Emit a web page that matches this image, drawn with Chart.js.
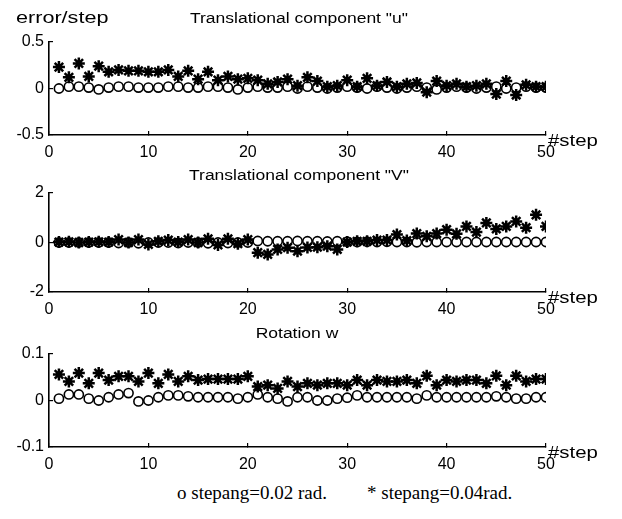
<!DOCTYPE html>
<html>
<head>
<meta charset="utf-8">
<script src="https://cdn.jsdelivr.net/npm/chart.js@4.4.1/dist/chart.umd.min.js"></script>
<style>
  html, body { margin: 0; padding: 0; background: #fff; }
  #wrap { position: relative; width: 622px; height: 519px; overflow: hidden; background: #fff; }
  canvas { position: absolute; left: 0; }
  .t { position: absolute; font-family: "Liberation Sans", Arial, sans-serif; color: #000; white-space: nowrap; line-height: 1; }
  .c { transform-origin: center center; }
  .l { transform-origin: left center; }
  .leg { position: absolute; font-family: "Liberation Serif", "Times New Roman", serif; font-size: 19px; color: #000; white-space: nowrap; line-height: 1; }
</style>
</head>
<body>
<div id="wrap">
  <canvas id="c1" width="622" height="165" style="top:0px;width:622px;height:165px"></canvas>
  <canvas id="c2" width="622" height="155" style="top:165px;width:622px;height:155px"></canvas>
  <canvas id="c3" width="622" height="160" style="top:320px;width:622px;height:160px"></canvas>

  <div class="t l" style="left:16px;top:10px;font-size:16px;transform:scaleX(1.35)">error/step</div>
  <div class="t c" style="left:199px;top:11px;width:200px;text-align:center;font-size:14px;transform:scaleX(1.25)">Translational component "u"</div>
  <div class="t c" style="left:199px;top:168px;width:200px;text-align:center;font-size:14px;transform:scaleX(1.25)">Translational component "V"</div>
  <div class="t c" style="left:247px;top:326px;width:100px;text-align:center;font-size:14px;transform:scaleX(1.25)">Rotation w</div>

  <div class="t l" style="left:548px;top:132px;font-size:17px;transform:scaleX(1.2)">#step</div>
  <div class="t l" style="left:548px;top:289px;font-size:17px;transform:scaleX(1.2)">#step</div>
  <div class="t l" style="left:548px;top:444px;font-size:17px;transform:scaleX(1.2)">#step</div>

  <div class="leg" style="left:177px;top:483px">o stepang=0.02 rad.</div>
  <div class="leg" style="left:367px;top:483px">* stepang=0.04rad.</div>
</div>
<script>
// ---- data ----
const steps = [1,2,3,4,5,6,7,8,9,10,11,12,13,14,15,16,17,18,19,20,21,22,23,24,25,26,27,28,29,30,31,32,33,34,35,36,37,38,39,40,41,42,43,44,45,46,47,48,49,50];

const uCircle = [0.00,0.02,0.02,0.01,-0.01,0.01,0.02,0.02,0.01,0.01,0.01,0.02,0.02,0.01,0.01,0.02,0.02,0.01,-0.01,0.01,
                 0.02,0.01,0.01,0.02,0.00,0.02,0.01,0.00,0.01,0.02,0.01,0.00,0.02,0.01,0.00,0.01,0.02,0.01,-0.01,0.01,
                 0.02,0.01,0.00,0.01,0.02,0.00,0.01,0.02,0.01,0.01];
const uStar   = [0.23,0.12,0.27,0.13,0.24,0.18,0.20,0.19,0.19,0.18,0.18,0.20,0.13,0.19,0.10,0.18,0.09,0.13,0.10,0.11,
                 0.09,0.05,0.07,0.10,0.03,0.12,0.08,0.02,0.03,0.09,0.02,0.11,0.03,0.07,0.02,0.05,0.06,-0.04,0.08,0.03,
                 0.05,0.02,0.03,0.05,-0.06,0.08,-0.07,0.04,0.02,0.02];

const vCircle = [0.00,0.00,0.00,0.00,0.00,0.00,-0.02,0.00,-0.03,0.00,0.00,0.00,-0.02,0.00,0.00,-0.03,0.00,-0.02,0.00,0.00,
                 0.06,0.05,0.05,0.05,0.06,0.05,0.05,0.04,0.05,0.03,0.02,0.03,0.02,0.03,0.02,0.02,0.01,0.02,0.02,0.02,
                 0.02,0.02,0.02,0.02,0.02,0.02,0.02,0.02,0.02,0.02];
const vStar   = [0.02,0.03,0.00,0.02,0.03,0.02,0.12,0.00,0.12,-0.08,0.05,0.10,0.02,0.12,0.00,0.15,-0.10,0.15,-0.05,0.12,
                 -0.41,-0.48,-0.28,-0.21,-0.35,-0.20,-0.19,-0.15,-0.28,0.02,0.05,0.05,0.10,0.10,0.32,0.08,0.36,0.25,0.36,0.52,
                 0.35,0.65,0.42,0.79,0.55,0.65,0.85,0.60,1.12,0.65];

const wCircle = [0.004,0.013,0.013,0.004,0.000,0.007,0.013,0.016,-0.002,0.000,0.007,0.011,0.011,0.009,0.007,0.007,0.007,0.007,0.004,0.007,
                 0.013,0.007,0.004,-0.002,0.007,0.007,0.000,0.000,0.004,0.006,0.011,0.007,0.007,0.007,0.007,0.007,0.004,0.011,0.007,0.007,
                 0.007,0.007,0.007,0.007,0.009,0.007,0.004,0.004,0.007,0.007];
const wStar   = [0.056,0.041,0.059,0.037,0.059,0.044,0.052,0.052,0.041,0.059,0.037,0.056,0.041,0.052,0.044,0.046,0.046,0.046,0.046,0.052,
                 0.030,0.033,0.026,0.041,0.030,0.037,0.033,0.037,0.037,0.033,0.044,0.033,0.044,0.041,0.041,0.044,0.037,0.053,0.033,0.044,
                 0.041,0.044,0.044,0.037,0.053,0.033,0.053,0.041,0.046,0.046];

const xTicks = [0,10,20,30,40,50];
const uTicks = [-0.5,0,0.5];
const vTicks = [-2,0,2];
const wTicks = [-0.1,0,0.1];

// ---- charts ----
const FONT = '"Liberation Sans", Arial, sans-serif';
function pts(arr){ return steps.map((s,i)=>({x:s, y:arr[i]})); }

function makeChart(id, circles, stars, yTicks, pad){
  return new Chart(document.getElementById(id), {
    type: 'scatter',
    data: {
      datasets: [
        { data: pts(stars), pointStyle: 'star', pointRadius: 6, pointBorderWidth: 2.5,
          borderColor: '#000', backgroundColor: '#000', showLine: false },
        { data: pts(circles), pointStyle: 'circle', pointRadius: 4.6, pointBorderWidth: 1.6,
          borderColor: '#000', backgroundColor: 'rgba(255,255,255,0)', showLine: false }
      ]
    },
    options: {
      responsive: false, animation: false,
      layout: { padding: pad },
      plugins: { legend: { display: false }, tooltip: { enabled: false } },
      scales: {
        x: {
          type: 'linear', position: 'bottom', min: xTicks[0], max: xTicks[xTicks.length-1],
          afterFit: s => { s.height = 25; },
          afterBuildTicks: s => { s.ticks = xTicks.map(v=>({value:v})); },
          ticks: { color:'#000', font:{family:FONT, size:16}, padding: 12, maxRotation:0, autoSkip:false },
          grid: { display: true, drawOnChartArea: false, drawTicks: true, tickLength: -4, color:'#000', lineWidth: 1.2 },
          border: { display: true, color: '#000', width: 1.6 }
        },
        y: {
          type: 'linear', position: 'left', min: yTicks[0], max: yTicks[yTicks.length-1],
          afterFit: s => { s.width = 49; },
          afterBuildTicks: s => { s.ticks = yTicks.map(v=>({value:v})); },
          ticks: { color:'#000', font:{family:FONT, size:16}, padding: 9, autoSkip:false },
          grid: { display: true, drawOnChartArea: false, drawTicks: true, tickLength: -4, color:'#000', lineWidth: 1.2 },
          border: { display: true, color: '#000', width: 1.6 }
        }
      }
    }
  });
}

makeChart('c1', uCircle, uStar, uTicks, {left:0, right:76, top:42, bottom:5});
makeChart('c2', vCircle, vStar, vTicks, {left:0, right:76, top:28, bottom:3});
makeChart('c3', wCircle, wStar, wTicks, {left:0, right:76, top:34, bottom:8});
</script>
</body>
</html>
